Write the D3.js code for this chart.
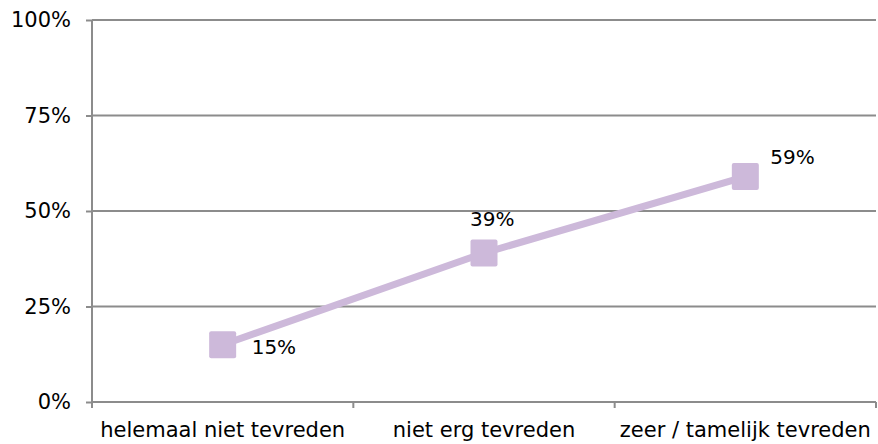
<!DOCTYPE html>
<html>
<head>
<meta charset="utf-8">
<script src="https://cdn.jsdelivr.net/npm/d3@7"></script>
<style>
  body { margin: 0; background: #fff; }
  text { font-family: "DejaVu Sans", Verdana, sans-serif; fill: #000; }
</style>
</head>
<body>
<div id="chart"></div>
<script>
// data
var categories = ['helemaal niet tevreden', 'niet erg tevreden', 'zeer / tamelijk tevreden'];
var values = [15, 39, 59];
var yTicks = [0, 25, 50, 75, 100];

var W = 878, H = 444
  , margin = { left: 92, right: 2, top: 20, bottom: 42 }
  , gridColor = '#8c8c8c'
  , lineColor = '#cdb9da'
  , fontSize = 21;

var svg = d3.select('#chart').append('svg')
  .attr('width', W)
  .attr('height', H);

var x = d3.scaleBand()
  .domain(categories)
  .range([margin.left, W - margin.right]);

var y = d3.scaleLinear()
  .domain([0, 100])
  .range([H - margin.bottom, margin.top]);

// gridlines
svg.append('g')
  .selectAll('line')
  .data(yTicks.filter(function(d){ return d > 0; }))
  .enter().append('line')
    .attr('x1', margin.left)
    .attr('x2', W - margin.right)
    .attr('y1', function(d){ return y(d); })
    .attr('y2', function(d){ return y(d); })
    .attr('stroke', gridColor)
    .attr('stroke-width', 2);

// y axis
var yAxis = svg.append('g')
  .attr('transform', 'translate(' + margin.left + ',0)')
  .call(d3.axisLeft(y).tickValues(yTicks).tickSize(6).tickPadding(15)
    .tickFormat(function(d){ return d + '%'; }));

// x axis with ticks at band edges
var xAxis = svg.append('g')
  .attr('transform', 'translate(0,' + y(0) + ')')
  .call(d3.axisBottom(x).tickSize(0).tickPadding(20));

var edges = categories.map(function(c){ return x(c); }).concat([x.range()[1]]);
xAxis.selectAll('.edge')
  .data(edges)
  .enter().append('line')
    .attr('class', 'edge')
    .attr('x1', function(d){ return d; })
    .attr('x2', function(d){ return d; })
    .attr('y1', 0)
    .attr('y2', 6);

[yAxis, xAxis].forEach(function(g){
  g.select('.domain').attr('stroke', gridColor).attr('stroke-width', 2);
  g.selectAll('line').attr('stroke', gridColor).attr('stroke-width', 2);
  g.selectAll('text').attr('font-size', fontSize).attr('font-family', '"DejaVu Sans", Verdana, sans-serif').attr('fill', '#000');
});
yAxis.select('.domain').attr('d', 'M0,' + y(0) + 'V' + y(100));
xAxis.select('.domain').attr('d', 'M' + margin.left + ',0H' + x.range()[1]);

var pts = categories.map(function(c, i){
  return { cx: x(c) + x.bandwidth() / 2, cy: y(values[i]), v: values[i] };
});

svg.append('path')
  .datum(pts)
  .attr('fill', 'none')
  .attr('stroke', lineColor)
  .attr('stroke-width', 7)
  .attr('d', d3.line().x(function(d){ return d.cx; }).y(function(d){ return d.cy; }));

var s = 27;
svg.selectAll('.marker')
  .data(pts)
  .enter().append('rect')
    .attr('class', 'marker')
    .attr('x', function(d){ return d.cx - s / 2; })
    .attr('y', function(d){ return d.cy - s / 2; })
    .attr('width', s)
    .attr('height', s)
    .attr('rx', 2)
    .attr('fill', lineColor);

// data labels: right for first and last, above for middle
var labelPos = [[29, 9], [-14, -27], [25, -13]];
svg.selectAll('.lbl')
  .data(pts)
  .enter().append('text')
    .attr('class', 'lbl')
    .attr('x', function(d, i){ return d.cx + labelPos[i][0]; })
    .attr('y', function(d, i){ return d.cy + labelPos[i][1]; })
    .attr('font-size', 20)
    .text(function(d){ return d.v + '%'; });
</script>
</body>
</html>
